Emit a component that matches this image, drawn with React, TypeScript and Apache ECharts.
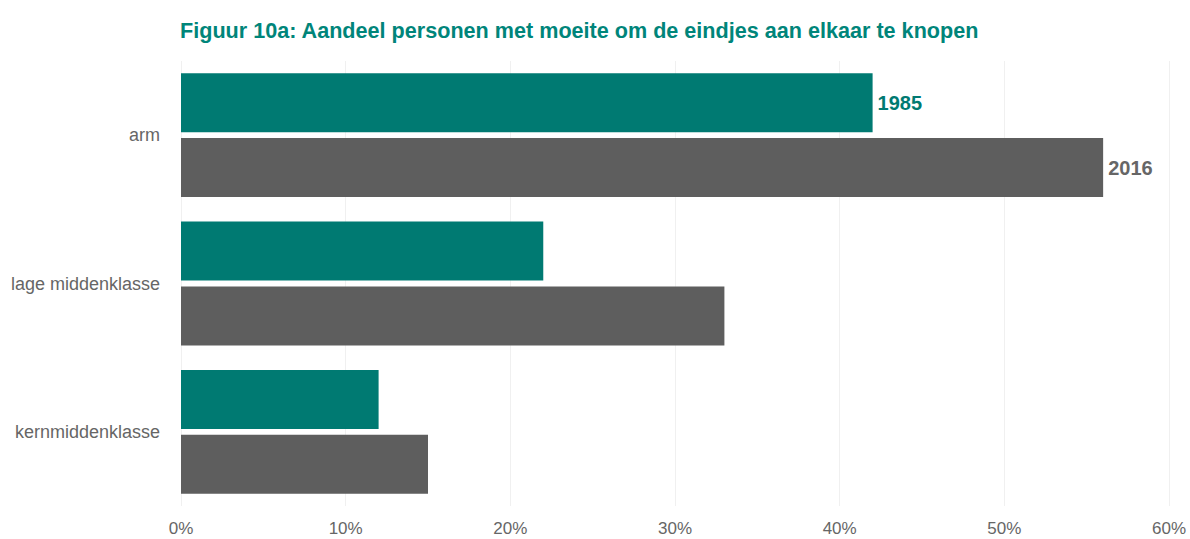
import React, { useEffect, useRef } from "react";
import * as echarts from "echarts";

const categories = ["arm", "lage middenklasse", "kernmiddenklasse"];
const values1985 = [42, 22, 12];
const values2016 = [56, 33, 15];
const seriesNames = ["1985", "2016"];
const xTicks = [0, 10, 20, 30, 40, 50, 60];
const title = "Figuur 10a: Aandeel personen met moeite om de eindjes aan elkaar te knopen";

const TEAL = "#007A72";
const GRAY = "#5E5E5E";
const FONT = "'Liberation Sans', Arial, Helvetica, sans-serif";

export default function App() {
  const ref = useRef<HTMLDivElement>(null);
  useEffect(() => {
    if (!ref.current) return;
    const chart = echarts.init(ref.current, null, { renderer: "svg" });
    const mk = (vals: number[], name: string, color: string, labelColor: string) => ({
      type: "bar",
      name,
      barWidth: 59,
      barGap: "10%",
      itemStyle: { color },
      data: vals.map((v, i) => ({
        value: v,
        label: {
          show: i === 0,
          position: "right",
          distance: 5,
          formatter: name,
          color: labelColor,
          fontWeight: "bold",
          fontSize: 20,
          fontFamily: FONT,
        },
      })),
    });
    chart.setOption({
      animation: false,
      textStyle: { fontFamily: FONT },
      title: {
        text: title,
        left: 175,
        top: 14,
        textStyle: { color: "#00857A", fontWeight: "bold", fontSize: 21.6, fontFamily: FONT },
      },
      grid: { left: 181, right: 21, top: 61, bottom: 33, containLabel: false },
      xAxis: {
        type: "value",
        min: xTicks[0],
        max: xTicks[xTicks.length - 1],
        interval: 10,
        axisLine: { show: false },
        axisTick: { show: false },
        splitLine: { show: true, lineStyle: { color: "#F0F0F0", width: 1 } },
        axisLabel: {
          formatter: "{value}%",
          color: "#666666",
          fontSize: 17,
          margin: 14,
          fontFamily: FONT,
        },
      },
      yAxis: {
        type: "category",
        data: categories,
        inverse: true,
        axisLine: { show: false },
        axisTick: { show: false },
        axisLabel: { color: "#666666", fontSize: 18, margin: 21, fontFamily: FONT },
      },
      series: [
        mk(values1985, seriesNames[0], TEAL, TEAL),
        mk(values2016, seriesNames[1], GRAY, "#666666"),
      ],
    });
    return () => chart.dispose();
  }, []);
  return (
    <div
      ref={ref}
      style={{ position: "fixed", left: 0, top: 0, width: 1190, height: 539, background: "#fff" }}
    />
  );
}
